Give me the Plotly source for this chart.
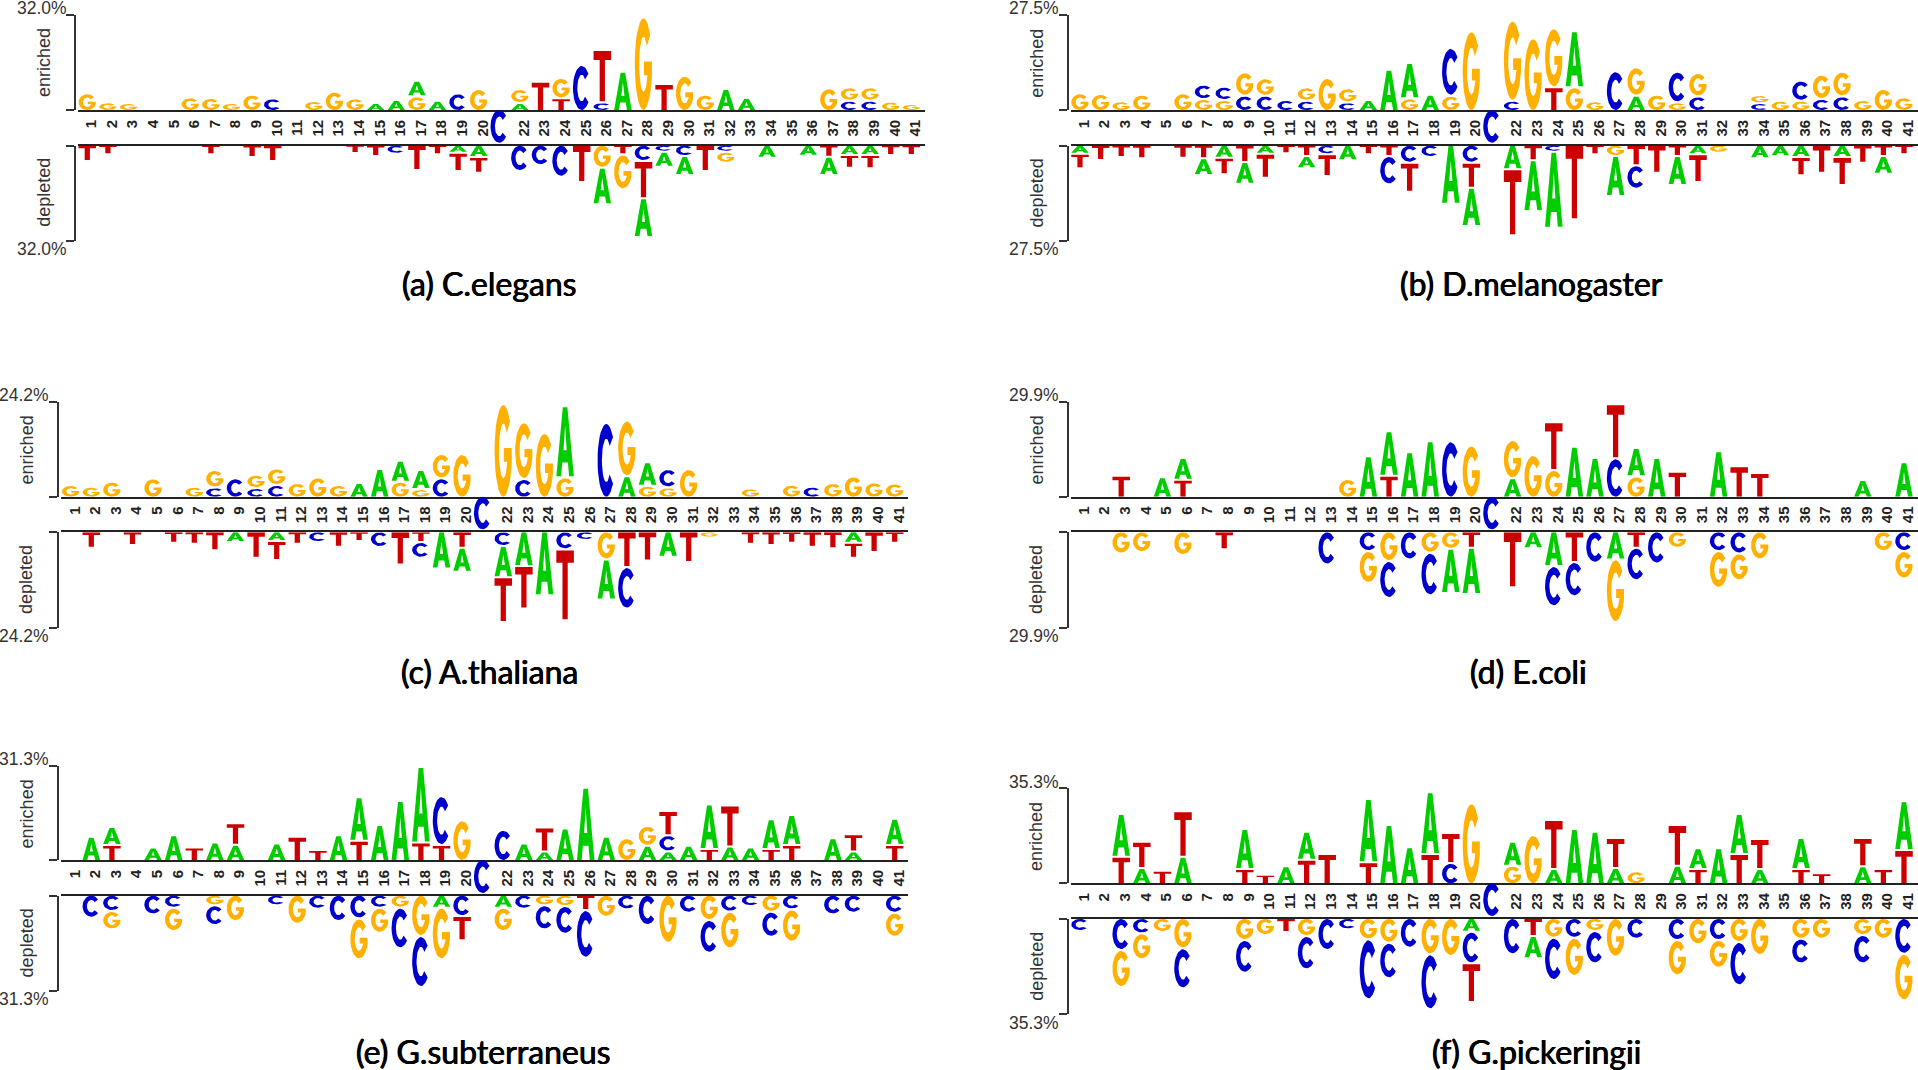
import math
import plotly.graph_objects as go

POSITIONS = [str(i) for i in range(1, 42)]
FIXED_POSITION = 21
LETTER_COLORS = {"A": "#00CC00", "C": "#0000CC", "G": "#FFB000", "T": "#CC0000"}

# Letter stacks from the baseline outward. Numbers are 1/285ths of each panel's full scale.
A_ENRICHED = ["G47","G20","G18","","","G35","G33","G18","G43","C32","","G24","G52","G32","A18","A27","G38 A47","A25","C47","G60","",
 "A18 G42","T82","T32 G61","C132","C20 T157","A112","G275","T75","G100","G43","A60","A33","","","","G62","C25 G40","C25 G40","G22","G15"]
A_DEPLETED = ["T43","T23","","","","","T23","","T31","T43","","","","T19","T28","C21","T70","T23","A18 T55","A31 T47","",
 "C73","C55","C90","T106","G63 A110","T23 G105","C43 T112 A116","C15 A45","C28 A57","T73","C15 G33","","A33","","A27","T30 A55","A25 T38","A25 T40","T25","T25"]
A_FIXED = 98

B_ENRICHED = ["G47","G45","G23","G43","","G47","G30 C43","G27 C40","C40 G70","C40 G52","C27","C25 G40","G93","C20 G42","A27","A118","G32 A106","A43","G40 C143","G233","",
 "C25 G240","G212","T65 G177","G65 A168","G23","C113","A40 G85","G43","G20 C92","C38 G70","","","C18 G24","G25","G25 C60","C30 G73","C38 G74","G27","G60","G35"]
B_DEPLETED = ["A21 T44","T40","T31","T35","","T33","T35 A50","A33 T50","T46 A65","A21 T72","T20","T28 A37","C23 T65","A41","T23","T28 C85","C48 T87","C31","A171","C48 T75 A115","",
 "A68 T198","T41 A152","C15 A228","T218","T23","G28 A120","T56 C70","T78","T28 A87","A23 T83","G18","","A35","A28","A31 T55","T78","A31 T84","T48","T28 A53","T23"]
B_FIXED = 98

C_ENRICHED = ["G32","G27","G42","","G52","","G27","C25 G52","C52","C23 G40","C32 G50","G38","G55","G32","A38","A80","G42 A63","G20 A57","C52 G73","G125","",
 "G275","C50 G170","G188","G55 A213","","C218","A58 G167","G30 A70","G25 C55","G80","","","G22","","G33","C27","G38","G58","G40","G37"]
C_DEPLETED = ["","T43","","T35","","T28","T31","T51","A26","T73","A23 T57","T31","C26","T40","T23","C41","T93","T26 C47","A105","T43 A72","",
 "C38 A93 T134","A98 T127","A185","C48 T212","C20","G78 A120","T101 C124","T81","A70","T86","G13","","T31","T35","T28","T40","T45","A28 T45","T56","T28"]
C_FIXED = 98

D_ENRICHED = ["","","T60","","A55","T48 A65","","","","","","","","G50","A118","T60 A133","A130","A163","C163","G150","",
 "A52 G115","G122","G77 T143","A147","A113","C112 T162","G58 A85","A113","T72","","A133","T88","T68","","","","","A47","","A100"]
D_DEPLETED = ["","","G60","G56","","G65","","T48","","","","","C93","","C53 G95","G83 C110","C78","G58 C127","G46 A132","T43 A138","",
 "T161","A45","A98 C120","T86 C102","C88","A78 G187","T43 C97","C90","G43","","C53 G110","C60 G80","G78","","","","","","G53","C53 G82"]
D_FIXED = 98

E_ENRICHED = ["","A67","T42 A55","","A35","A72","T35","A50","A43 T65","","A47","T67","T27","A72","T55 A132","A103","A175","T50 A228","T42 C148","G117","",
 "C88","A47","A23 T72","A92","A215","A67","G63","A40 G60","A23 C49 T73","A40","T30 A135","A38 T124","A35","T30 A90","T42 A91","","A63","A23 T52","","T42 A80"]
E_DEPLETED = ["","C63","C43 G55","","C53","C33 G70","","G26 C59","G73","","C26","G81","C36","C73","C65 G123","C33 G75","G33 C122","G118 C153","A33 G155","C58 T73","",
 "A33 G70","C36","G26 C72","G28 C83","T40 C143","G60","C38","C85","G138","C48","G70 C98","C45 G110","C28","G45 C75","C38 G97","","C53","C48","","C48 G72"]
E_FIXED = 100

F_ENRICHED = ["","","T77 A128","A43 T79","T35","A77 T136","","","T40 A120","T23","A48","T68 A84","T85","","T60 A190","A172","A105","T85 A185","C58 T90","G237","",
 "G50 A72","G142","A40 T147","A160","A152","A43 T90","G33","","A50 T122","T40 A62","A102","T85 A120","A40 T90","","T40 A93","T27","","A48 T85","T40","T97 A146"]
F_DEPLETED = ["C33","","C90 G111","C40 G78","G36","G85 C120","","","G60 C98","G45","T36","G48 C100","C90","C28","G58 C180","G68 C107","C83","G103 C165","G108","A35 C95 T116","",
 "C103","T48 A67","G53 C127","C53 G115","G33 C97","G110","C56","","C60 G106","G73","C60 G83","G66 C130","G105","","G56 C74","G56","","G45 C85","G56","C101 G140"]
F_FIXED = 98

PANELS = [
    ("(a) C.elegans", 32.0, A_ENRICHED, A_DEPLETED, A_FIXED),
    ("(b) D.melanogaster", 27.5, B_ENRICHED, B_DEPLETED, B_FIXED),
    ("(c) A.thaliana", 24.2, C_ENRICHED, C_DEPLETED, C_FIXED),
    ("(d) E.coli", 29.9, D_ENRICHED, D_DEPLETED, D_FIXED),
    ("(e) G.subterraneus", 31.3, E_ENRICHED, E_DEPLETED, E_FIXED),
    ("(f) G.pickeringii", 35.3, F_ENRICHED, F_DEPLETED, F_FIXED),
]

# Page geometry of each panel: bracket x, first letter x, axis top, upper baseline, lower baseline, axis bottom, caption x, caption y
GEOMETRY = [
    (75.0, 87.3, 15.0, 110.0, 145.7, 240.7, 489, 283),
    (1067.7, 1080.0, 15.0, 110.0, 145.7, 240.7, 1531, 283),
    (57.7, 70.7, 401.7, 496.7, 532.3, 627.7, 489, 671),
    (1067.7, 1080.0, 401.7, 496.7, 532.3, 627.7, 1528, 671),
    (57.7, 70.7, 765.7, 860.0, 895.7, 990.7, 483, 1051),
    (1067.7, 1080.0, 788.3, 883.3, 919.0, 1014.0, 1536, 1051),
]

W, H = 1918, 1070
STEP = 20.6
FULL = 285.0
LETTER_W = 0.85


def arc(rx, ry, a0, a1, n=28):
    return [(0.5 + rx * math.cos(math.radians(a0 + (a1 - a0) * i / n)),
             0.5 + ry * math.sin(math.radians(a0 + (a1 - a0) * i / n))) for i in range(n + 1)]


GLYPHS = {
    "A": [(0, 0), (.27, 0), (.34, .2), (.66, .2), (.73, 0), (1, 0), (.63, 1), (.5, 1), (.5, .74),
          (.59, .38), (.41, .38), (.5, .74), (.5, 1), (.37, 1)],
    "T": [(.35, 0), (.65, 0), (.65, .82), (1, .82), (1, 1), (0, 1), (0, .82), (.35, .82)],
    "C": arc(.5, .5, 40, 320) + arc(.25, .3, 320, 40),
    "G": arc(.5, .5, 40, 345) + [(.98, .53), (.53, .53), (.53, .38), (.75, .38)] + arc(.25, .3, 340, 40),
}


def parse(stack):
    return [(tok[0], float(tok[1:])) for tok in stack.split()]


def add_glyph(store, letter, pos, y0, y1):
    gx, gy = store[letter]
    for u, v in GLYPHS[letter]:
        gx.append(pos + (u - .5) * LETTER_W)
        gy.append(y0 + (y1 - y0) * v)
    gx.append(None)
    gy.append(None)


fig = go.Figure()
layout = {}
for i, (panel, geo) in enumerate(zip(PANELS, GEOMETRY)):
    caption, top, enriched, depleted, fixed = panel
    bx, x1p, ytop, ybase, ylow, yend, cx, cy = geo
    left = x1p - 9.3
    right = min(left + 847, W)
    unit = top / FULL
    scale_gap = (ylow - ybase) / (ybase - ytop)
    n = i * 3
    xa, xb = f"x{n + 1}", f"x{n + 2}"
    ya, ys, yb = f"y{n + 1}", f"y{n + 3}", f"y{n + 2}"
    xrange = [1 - 9.3 / STEP, 1 + (right - left - 9.3) / STEP]
    dom = [left / W, right / W]
    tick_pos = [int(p) for p in POSITIONS if int(p) != FIXED_POSITION]
    layout["xaxis" + xa[1:]] = dict(domain=dom, range=xrange, anchor=ya, tickmode="array", tickvals=tick_pos,
                                    ticktext=[str(p) for p in tick_pos], tickangle=-90, ticks="", showgrid=False,
                                    zeroline=False, showline=True, linecolor="#222", linewidth=1.6, automargin=False,
                                    tickfont=dict(family="Liberation Sans", size=15, color="#222", weight="bold"),
                                    ticklabelshift=4, ticklabelstandoff=2)
    layout["xaxis" + xb[1:]] = dict(domain=dom, range=xrange, anchor=yb, side="top", showticklabels=False, ticks="",
                                    showgrid=False, zeroline=False, showline=True, linecolor="#222", linewidth=1.6,
                                    automargin=False)
    yax = dict(anchor="free", position=bx / W, showgrid=False, zeroline=False, showline=True, linecolor="#333",
               linewidth=1.6, ticks="outside", ticklen=8, tickcolor="#333", tickwidth=1.6, tickmode="array",
               showticklabels=False, automargin=False)
    layout["yaxis" + ya[1:]] = dict(yax, domain=[1 - ybase / H, 1 - ytop / H], range=[0, top], tickvals=[0, top])
    layout["yaxis" + yb[1:]] = dict(yax, domain=[1 - yend / H, 1 - ylow / H], range=[-top, 0], tickvals=[-top, 0])
    layout["yaxis" + ys[1:]] = dict(domain=[1 - ylow / H, 1 - ybase / H], range=[-top * scale_gap, 0], anchor=xa,
                                    visible=False, automargin=False)

    up = {k: ([], []) for k in GLYPHS}
    down = {k: ([], []) for k in GLYPHS}
    for pos, stack in zip(POSITIONS, enriched):
        end = 0.0
        for j, (letter, val) in enumerate(parse(stack)):
            gap = 0 if j == 0 else min(2 * top / 95, val * unit * .2)
            add_glyph(up, letter, int(pos), end + gap, end + val * unit)
            end += val * unit
    for pos, stack in zip(POSITIONS, depleted):
        end = 0.0
        for j, (letter, val) in enumerate(parse(stack)):
            gap = 0 if j == 0 else min(2 * top / 95, val * unit * .2)
            add_glyph(down, letter, int(pos), -(end + val * unit), -(end + gap))
            end += val * unit
    for store, xr, yr in ((up, xa, ya), (down, xb, yb)):
        for letter, (gx, gy) in store.items():
            if gx:
                fig.add_trace(go.Scatter(x=gx, y=gy, xaxis=xr, yaxis=yr, mode="lines", fill="toself",
                                         fillcolor=LETTER_COLORS[letter], line=dict(width=0, color=LETTER_COLORS[letter]),
                                         showlegend=False, hoverinfo="skip", name=letter))
    fixed_store = {"C": ([], [])}
    add_glyph(fixed_store, "C", FIXED_POSITION, -fixed * unit, 0)
    fig.add_trace(go.Scatter(x=fixed_store["C"][0], y=fixed_store["C"][1], xaxis=xa, yaxis=ys, mode="lines",
                             fill="toself", fillcolor=LETTER_COLORS["C"], line=dict(width=0, color=LETTER_COLORS["C"]),
                             showlegend=False, hoverinfo="skip", name="C"))

    note = dict(xref="paper", yref="paper", showarrow=False, textangle=-90, xanchor="center", yanchor="middle",
                font=dict(family="Liberation Sans", size=18, color="#333"))
    pct = dict(xref="paper", yref="paper", showarrow=False, xanchor="right", yanchor="middle",
               text=f"{top:.1f}%", x=(bx - 6.5) / W, font=dict(family="Liberation Sans", size=17.5, color="#333"))
    layout.setdefault("annotations", []).extend([
        dict(note, text="enriched", x=(bx - 31) / W, y=1 - (ytop + 48) / H),
        dict(note, text="depleted", x=(bx - 31) / W, y=1 - (ylow + 47) / H),
        dict(pct, y=1 - (ytop - 6.5) / H),
        dict(pct, y=1 - (yend + 8.5) / H),
        dict(xref="paper", yref="paper", showarrow=False, text=caption, x=cx / W, y=1 - cy / H,
             xanchor="center", yanchor="middle",
             font=dict(family="Lato", size=32, color="#000", shadow="0.4px 0 0 #000, -0.4px 0 0 #000")),
    ])

fig.update_layout(width=W, height=H, margin=dict(l=0, r=0, t=0, b=0), plot_bgcolor="white", paper_bgcolor="white",
                  **layout)
fig.write_html("out.html", config={"displayModeBar": False},
               post_script="document.body.style.margin='0';document.body.style.overflow='hidden';")
